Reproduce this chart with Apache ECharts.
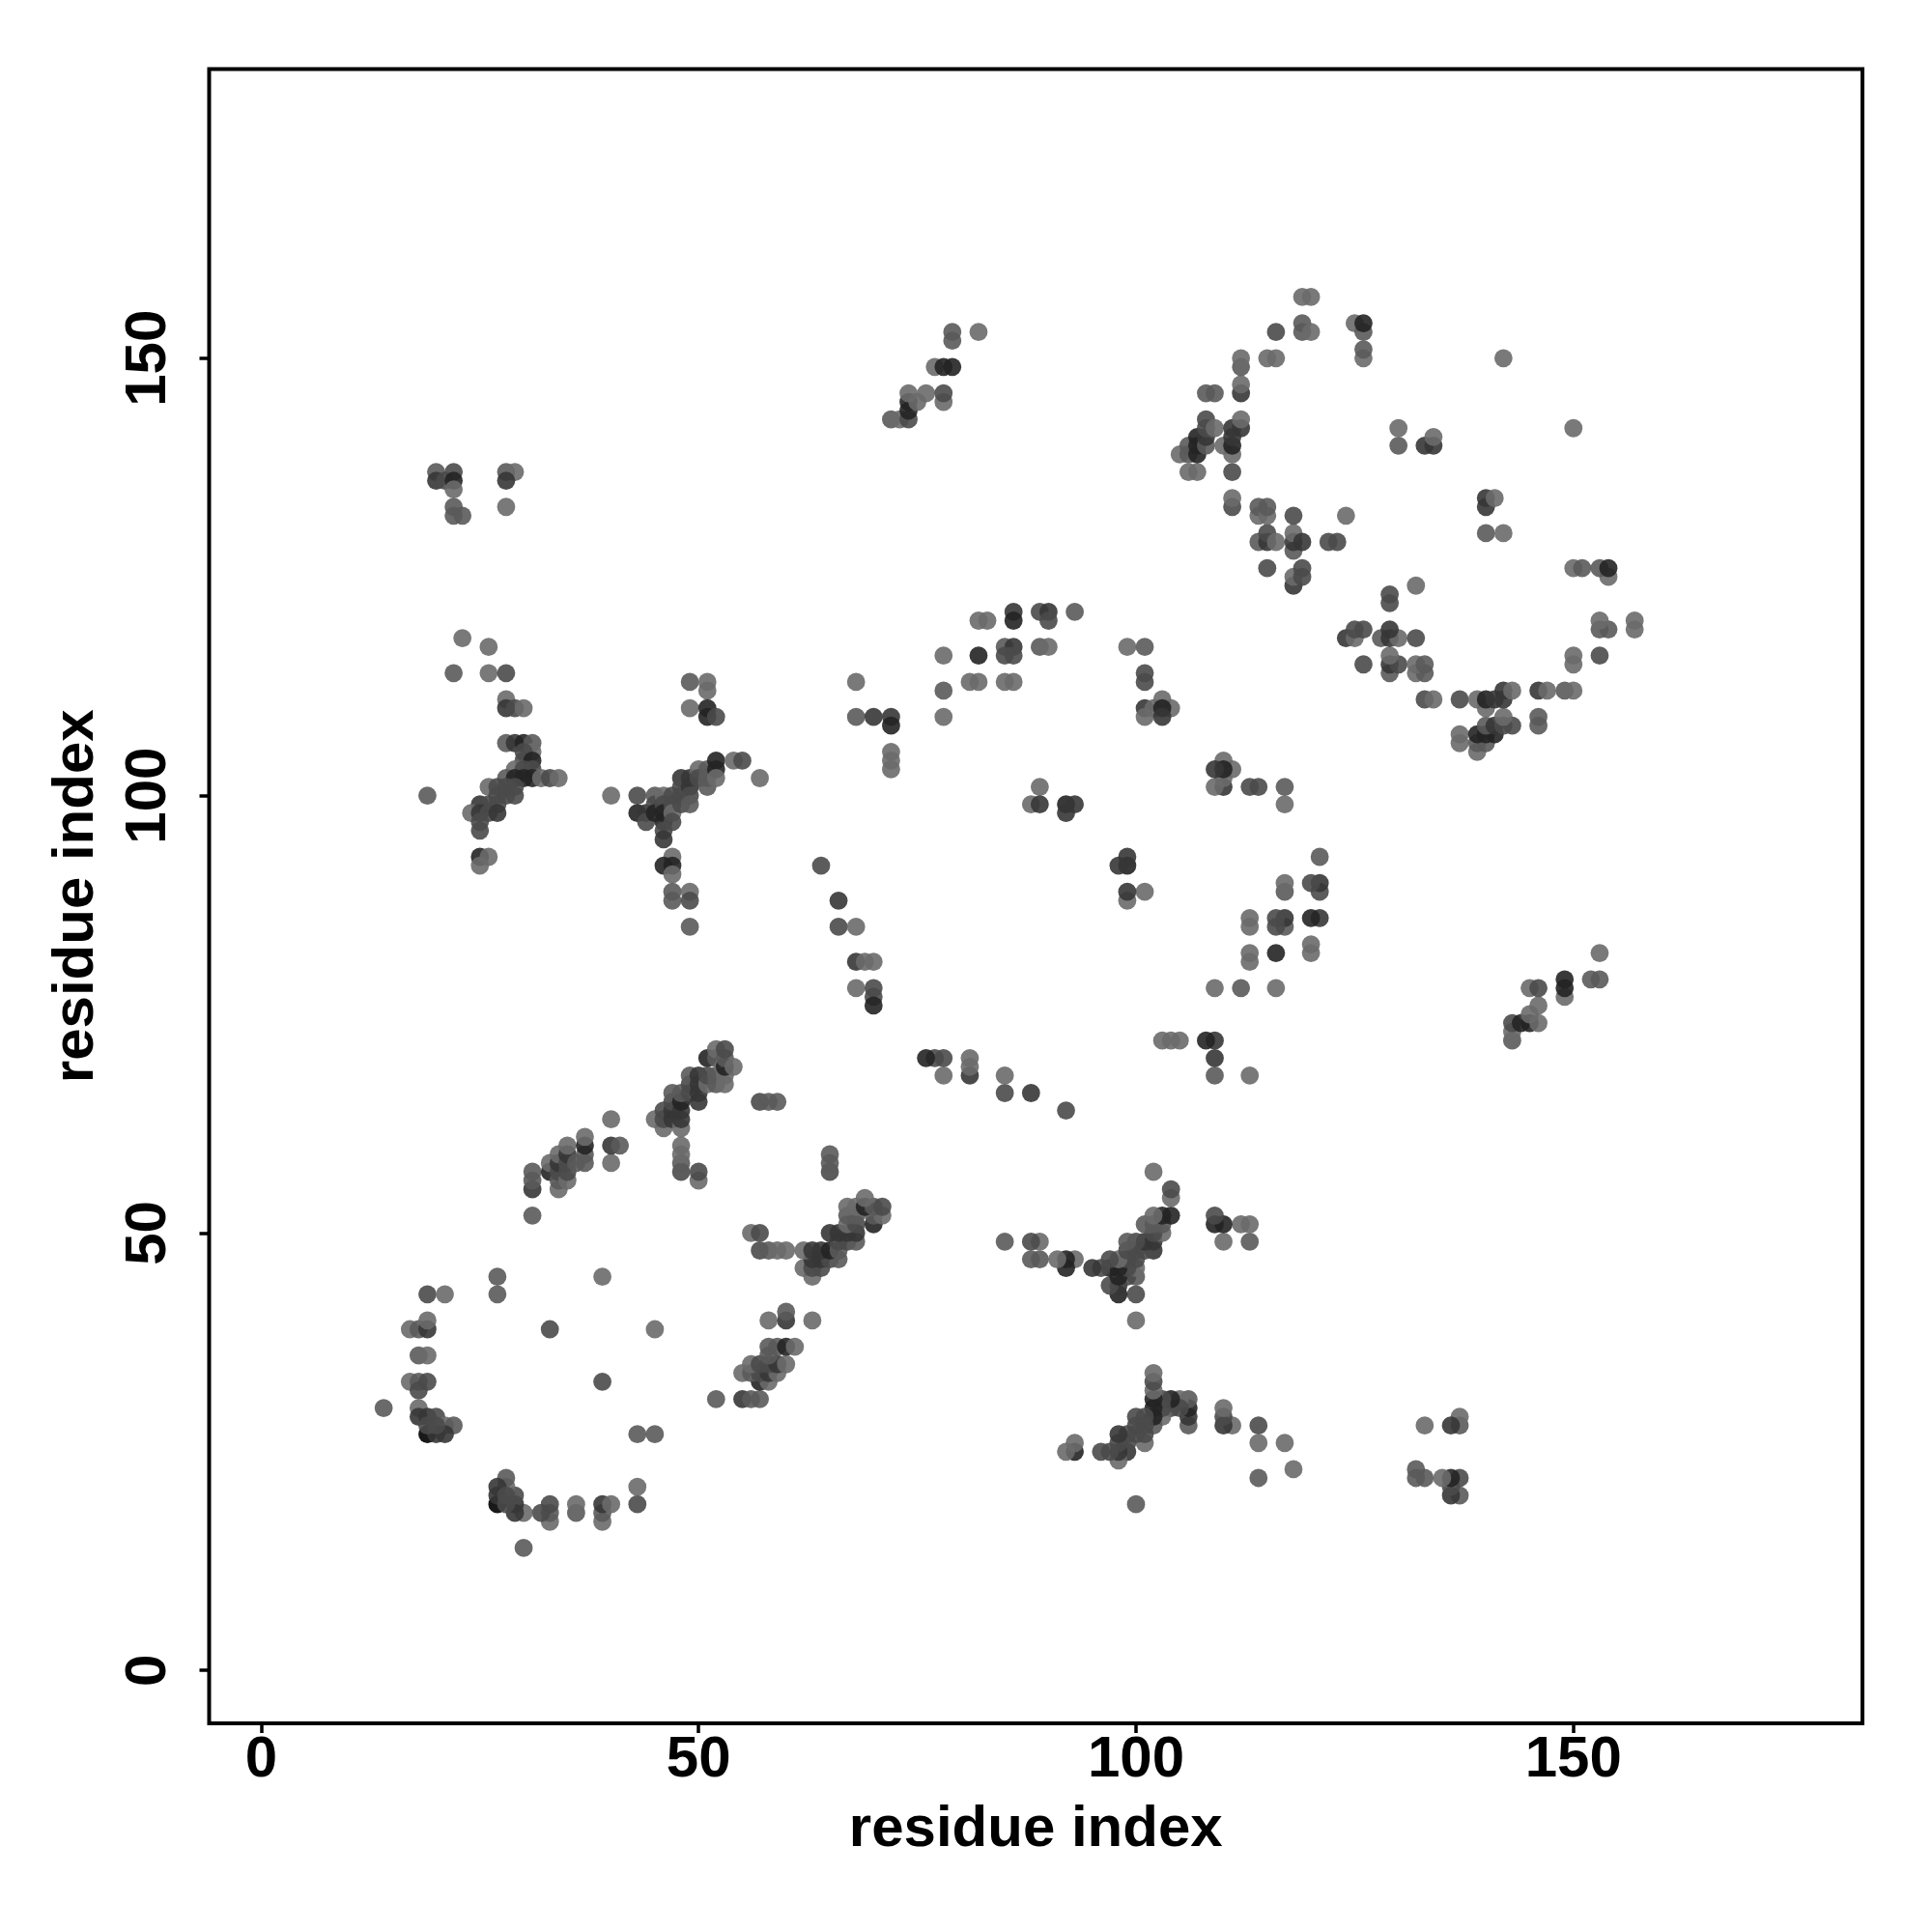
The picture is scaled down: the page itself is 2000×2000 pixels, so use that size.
<!DOCTYPE html>
<html><head><meta charset="utf-8">
<style>html,body{margin:0;padding:0;background:#fff}#c{width:2000px;height:2000px}</style>
<script src="https://cdn.jsdelivr.net/npm/echarts@6/dist/echarts.min.js"></script></head>
<body><div id="c"></div>
<script>
const tickValues = [0, 50, 100, 150];
const axisTitle = 'residue index';
// shade levels
const shadeColors = {a:'#6a6a6a', b:'#5a5a5a', c:'#4a4a4a', d:'#363636', e:'#232323', f:'#000000'};
// contacts as [residue i, residue j, shade]; the map is symmetric
const ringA = [[14,30,'b'],[19,43,'c'],[21,43,'a'],[27,45,'b'],[27,43,'b'],[33,39,'c'],[39,45,'a'],[17,39,'a'],[18,39,'b'],[19,39,'d'],[19,40,'a'],[18,36,'b'],[19,36,'a'],[17,33,'a'],[18,33,'b'],[19,33,'c'],[18,32,'c'],[18,30,'a'],[18,29,'d'],[19,29,'d'],[20,29,'c'],[21,28,'a'],[22,28,'b'],[19,27,'f'],[20,27,'d'],[21,27,'d'],[19,28,'c'],[20,28,'c']];
const blockB = [[31,52,'b'],[31,55,'d'],[31,56,'b'],[31,57,'b'],[33,57,'e'],[33,58,'a'],[34,55,'a'],[34,56,'b'],[34,57,'c'],[34,58,'d'],[34,59,'a'],[35,56,'a'],[35,57,'c'],[35,58,'c'],[35,59,'d'],[35,60,'a'],[36,58,'b'],[37,58,'b'],[37,59,'b'],[37,60,'e'],[37,61,'a'],[40,58,'a'],[40,60,'d'],[40,63,'a'],[41,60,'b']];
const blockB2 = [[45,63,'a'],[46,62,'a'],[46,63,'c'],[46,64,'c'],[47,63,'d'],[47,64,'d'],[47,65,'c'],[47,66,'b'],[48,57,'c'],[48,58,'b'],[48,59,'a'],[48,60,'a'],[48,62,'a'],[48,63,'d'],[48,64,'d'],[48,65,'e'],[48,66,'b'],[49,66,'c'],[49,67,'c'],[49,68,'b'],[50,56,'a'],[50,57,'c'],[50,65,'d'],[50,66,'d'],[50,67,'d'],[50,68,'d'],[51,67,'a'],[51,68,'c'],[51,70,'e'],[52,67,'b'],[52,68,'b'],[52,70,'b'],[52,71,'a'],[53,67,'a'],[53,68,'a'],[53,69,'e'],[53,70,'b'],[53,71,'c'],[54,69,'a'],[57,65,'c'],[58,65,'b'],[59,65,'b']];
const blockC = [[19,100,'b'],[22,114,'b'],[23,118,'a'],[26,117,'a'],[26,114,'a'],[28,114,'c'],[28,111,'a'],[28,110,'d'],[29,110,'c'],[30,110,'a'],[28,106,'b'],[29,106,'d'],[30,106,'e'],[31,106,'b'],[31,105,'a'],[30,105,'c'],[30,104,'c'],[31,104,'e'],[29,103,'a'],[30,103,'c'],[31,103,'c'],[28,102,'b'],[29,102,'e'],[30,102,'e'],[31,102,'e'],[32,102,'a'],[33,102,'c'],[34,102,'a'],[26,101,'a'],[27,101,'c'],[28,101,'c'],[29,101,'c'],[27,100,'c'],[28,100,'c'],[29,100,'c'],[25,99,'d'],[26,99,'c'],[27,99,'c'],[24,98,'a'],[25,98,'d'],[26,98,'c'],[27,98,'d'],[25,97,'c'],[25,96,'c'],[25,93,'e'],[26,93,'a'],[25,92,'a']];
const blockG = [[40,100,'a'],[43,100,'c'],[43,98,'e'],[44,98,'d'],[44,97,'c'],[45,100,'b'],[45,99,'c'],[45,98,'e'],[46,100,'a'],[46,99,'c'],[46,98,'e'],[46,97,'e'],[46,96,'c'],[46,95,'d'],[47,100,'c'],[47,99,'c'],[47,98,'a'],[47,97,'c'],[47,93,'a'],[46,92,'e'],[47,92,'e'],[47,91,'a'],[47,89,'b'],[49,89,'a'],[47,88,'b'],[49,88,'c'],[49,85,'b'],[48,102,'d'],[48,101,'c'],[48,100,'c'],[48,99,'c'],[49,102,'d'],[49,101,'d'],[49,100,'c'],[49,99,'b'],[50,103,'a'],[50,102,'c'],[51,103,'b'],[51,102,'b'],[51,101,'b'],[52,104,'e'],[52,103,'e'],[52,102,'a'],[54,104,'a'],[55,104,'c'],[57,102,'a'],[49,113,'b'],[51,113,'a'],[51,112,'a'],[49,110,'a'],[51,110,'e'],[51,109,'e'],[52,109,'c']];
const blockH = [[20,137,'b'],[20,136,'d'],[21,136,'c'],[22,137,'c'],[22,136,'e'],[22,135,'a'],[22,133,'b'],[22,132,'b'],[23,132,'b'],[28,137,'b'],[29,137,'a'],[28,136,'d'],[28,133,'a']];
const blockF = [[64,92,'c'],[66,88,'d'],[66,85,'c'],[68,85,'a'],[68,81,'d'],[69,81,'a'],[70,81,'a'],[68,78,'a'],[70,78,'c'],[70,77,'c'],[70,76,'e'],[68,113,'a'],[68,109,'b'],[70,109,'d'],[72,109,'d'],[72,108,'e'],[72,105,'a'],[72,104,'a'],[72,103,'a'],[78,116,'a'],[78,112,'b'],[78,109,'a'],[81,113,'a'],[82,113,'a'],[85,113,'a'],[86,113,'a'],[82,116,'e'],[85,117,'b'],[86,117,'d'],[85,116,'c'],[86,116,'c'],[89,117,'b'],[90,117,'a'],[82,120,'a'],[83,120,'a'],[86,121,'d'],[86,120,'e'],[89,121,'c'],[90,121,'d'],[90,120,'c'],[93,121,'b'],[99,117,'a'],[101,117,'b'],[101,114,'c'],[101,113,'c'],[101,110,'d'],[102,110,'a'],[101,109,'a'],[103,111,'a'],[104,110,'a'],[103,110,'e'],[103,109,'d'],[89,101,'a'],[88,99,'a'],[89,99,'d'],[92,99,'e'],[93,99,'d'],[92,98,'d']];
const blockK = [[72,143,'b'],[73,143,'a'],[74,143,'c'],[74,144,'e'],[74,145,'e'],[74,146,'a'],[75,145,'a'],[76,146,'a'],[77,149,'a'],[78,145,'a'],[78,146,'c'],[78,149,'e'],[79,149,'e'],[79,152,'b'],[79,153,'b'],[82,153,'a']];
const blockE = [[105,139,'a'],[106,137,'a'],[106,139,'b'],[106,140,'b'],[107,137,'a'],[107,139,'e'],[107,140,'e'],[107,141,'e'],[108,140,'b'],[108,141,'d'],[108,142,'c'],[108,143,'c'],[108,146,'b'],[109,142,'a'],[109,146,'b'],[110,140,'a'],[111,133,'c'],[111,134,'a'],[111,137,'c'],[111,139,'a'],[111,140,'e'],[111,141,'d'],[111,142,'d'],[112,142,'d'],[112,143,'a'],[112,146,'d'],[112,147,'a'],[112,149,'b'],[112,150,'a'],[114,129,'b'],[114,132,'a'],[114,133,'b'],[115,126,'c'],[115,129,'d'],[115,130,'c'],[115,132,'a'],[115,133,'b'],[115,150,'a'],[116,129,'a'],[116,150,'a'],[116,153,'c'],[118,124,'d'],[118,125,'a'],[118,128,'b'],[118,129,'d'],[118,130,'a'],[118,132,'c'],[119,125,'c'],[119,126,'c'],[119,129,'d'],[119,153,'b'],[119,154,'b'],[119,157,'a'],[120,153,'a'],[120,157,'a'],[122,129,'c'],[123,129,'c'],[124,132,'a'],[125,154,'a'],[126,150,'a'],[126,151,'b'],[126,153,'b'],[126,154,'e'],[130,140,'b'],[130,142,'a'],[133,140,'d'],[134,140,'d'],[134,141,'a'],[142,150,'a']];

const contacts = [].concat(ringA, blockB, blockB2, blockC, blockG, blockH, blockF, blockK, blockE);
const upper = contacts;
const lower = upper.map(p => [p[1], p[0], p[2]]);

const L=216.5, R=1928, T=71.5, B=1784;
const font='"Liberation Sans", Arial, sans-serif';
function axis(name, pos, gap, rot, margin, min, max){
  return {type:'value',position:pos,min:min,max:max,name:name,nameLocation:'middle',nameGap:gap,nameMoveOverlap:false,
    nameTextStyle:{fontFamily:font,fontWeight:'bold',fontSize:60,color:'#000'},
    axisLine:{show:false,onZero:false},splitLine:{show:false},
    axisTick:{show:true,length:10,inside:false,customValues:tickValues,lineStyle:{color:'#000',width:3.5}},
    axisLabel:{show:true,customValues:tickValues,hideOverlap:false,showMinLabel:true,showMaxLabel:true,margin:margin,rotate:rot,fontFamily:font,fontWeight:'bold',fontSize:60,color:'#000'}};
}
const chart=echarts.init(document.getElementById('c'),null,{renderer:'canvas'});
chart.setOption({
  animation:false,backgroundColor:'#fff',
  grid:{left:L,right:2000-R,top:T,bottom:2000-B,show:true,borderColor:'#000',borderWidth:4,backgroundColor:'transparent'},
  xAxis:axis(axisTitle,'bottom',80,0,8,-5.95,183.04),
  yAxis:axis(axisTitle,'left',107,90,32,-6.05,183.05),
  series:[{type:'scatter',symbol:'circle',symbolSize:18.8,silent:true,large:false,
    data:lower.concat(upper).map(p=>({value:[p[0],p[1]],itemStyle:{color:shadeColors[p[2]],opacity:0.9}}))}]
});
</script></body></html>
